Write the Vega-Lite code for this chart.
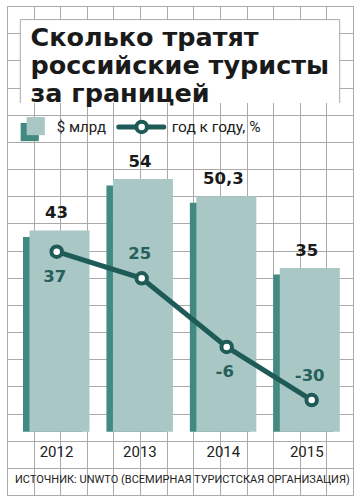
{
  "$schema": "https://vega.github.io/schema/vega-lite/v6.json",
  "width": 346,
  "height": 489,
  "autosize": {"type": "none"},
  "padding": {"left": 7, "top": 6, "right": 9, "bottom": 8},
  "background": "white",
  "config": {
    "view": {"stroke": "#aaaaaa", "strokeWidth": 1},
    "locale": {"number": {"decimal": ",", "thousands": " ", "grouping": [3], "currency": ["", ""], "minus": "-"}}
  },
  "datasets": {
    "spend": [
      {"year": 2012, "spend": 43},
      {"year": 2013, "spend": 54},
      {"year": 2014, "spend": 50.3},
      {"year": 2015, "spend": 35}
    ],
    "growth": [
      {"year": 2012, "change": 37},
      {"year": 2013, "change": 25},
      {"year": 2014, "change": -6},
      {"year": 2015, "change": -30}
    ]
  },
  "resolve": {"scale": {"x": "independent", "y": "independent"}},
  "layer": [
    {
      "data": {"values": [{}]},
      "encoding": {
        "x": {"type": "quantitative", "scale": {"domain": [0, 13], "nice": false, "zero": false},
              "axis": {"values": [0,1,2,3,4,5,6,7,8,9,10,11,12,13], "grid": true, "labels": false, "ticks": false, "domain": false, "title": null, "gridColor": "#aaaaaa", "gridOpacity": 1, "gridWidth": 1}},
        "y": {"type": "quantitative", "scale": {"domain": [0, 18], "nice": false, "zero": false, "reverse": true},
              "axis": {"values": [0,1,2,3,4,5,6,7,8,9,10,11,12,13,14,15,16,17,18], "grid": true, "labels": false, "ticks": false, "domain": false, "title": null, "gridColor": "#aaaaaa", "gridOpacity": 1, "gridWidth": 1}}
      },
      "layer": [
        {"mark": {"type": "rect", "fill": "white", "strokeWidth": 0},
         "encoding": {"x": {"datum": 0.5}, "x2": {"datum": 12.5}, "y": {"datum": 0.5}, "y2": {"datum": 3.57}}},
        {"mark": {"type": "rule", "color": "#aaaaaa", "strokeWidth": 1},
         "encoding": {"x": {"datum": 0.5}, "x2": {"datum": 12.5}, "y": {"datum": 0.5}}},
        {"mark": {"type": "rule", "color": "#aaaaaa", "strokeWidth": 1},
         "encoding": {"x": {"datum": 0.5}, "y": {"datum": 0.5}, "y2": {"datum": 3.57}}},
        {"mark": {"type": "rule", "color": "#aaaaaa", "strokeWidth": 1},
         "encoding": {"x": {"datum": 12.5}, "y": {"datum": 0.5}, "y2": {"datum": 3.57}}},
        {"mark": {"type": "text", "font": "DejaVu Sans", "fontWeight": "bold", "fontSize": 25.5, "align": "left", "baseline": "alphabetic", "lineHeight": 28, "color": "#1a1a1a",
                  "text": ["Сколько тратят", "российские туристы", "за границей"]},
         "encoding": {"x": {"datum": 0.88}, "y": {"datum": 1.48}}},
        {"mark": {"type": "square", "filled": true, "color": "#428a81", "size": 330, "xOffset": -6, "yOffset": 6, "opacity": 1},
         "encoding": {"x": {"datum": 1.08}, "y": {"datum": 4.42}}},
        {"mark": {"type": "square", "filled": true, "color": "#a8c7c5", "size": 330, "opacity": 1},
         "encoding": {"x": {"datum": 1.08}, "y": {"datum": 4.42}}},
        {"mark": {"type": "text", "font": "Roboto", "fontSize": 15, "align": "left", "baseline": "middle", "color": "#222222", "text": "$ млрд"},
         "encoding": {"x": {"datum": 1.87}, "y": {"datum": 4.44}}},
        {"mark": {"type": "rule", "color": "#1f5b56", "strokeWidth": 5, "strokeCap": "round"},
         "encoding": {"x": {"datum": 4.2}, "x2": {"datum": 5.89}, "y": {"datum": 4.45}}},
        {"mark": {"type": "point", "filled": true, "fill": "white", "stroke": "#1f5b56", "strokeWidth": 4, "size": 110, "opacity": 1},
         "encoding": {"x": {"datum": 5.06}, "y": {"datum": 4.45}}},
        {"mark": {"type": "text", "font": "Roboto", "fontSize": 15.5, "align": "left", "baseline": "middle", "color": "#222222", "text": "год к году, %"},
         "encoding": {"x": {"datum": 6.19}, "y": {"datum": 4.44}}},
        {"mark": {"type": "text", "font": "Roboto", "fontSize": 11, "align": "center", "baseline": "middle", "color": "#222222", "text": "ИСТОЧНИК: UNWTO (ВСЕМИРНАЯ ТУРИСТСКАЯ ОРГАНИЗАЦИЯ)"},
         "encoding": {"x": {"datum": 6.59}, "y": {"datum": 17.45}}}
      ]
    },
    {
      "data": {"name": "spend"},
      "encoding": {
        "x": {"field": "year", "type": "quantitative", "scale": {"domain": [2011.3707, 2015.5179], "nice": false, "zero": false, "padding": 0}, "axis": null},
        "y": {"field": "spend", "type": "quantitative", "stack": null, "scale": {"domain": [-13.53, 90.96], "nice": false, "padding": 0}, "axis": null}
      },
      "layer": [
        {"mark": {"type": "bar", "orient": "vertical", "width": 60, "color": "#428a81", "xOffset": -6.5, "yOffset": 6.5, "y2Offset": 6.5}},
        {"mark": {"type": "bar", "orient": "vertical", "width": 60, "color": "#a8c7c5"}},
        {"mark": {"type": "text", "font": "DejaVu Sans", "fontWeight": "bold", "fontSize": 16.5, "color": "#1a1a1a", "baseline": "middle", "align": "center", "dx": -3, "dy": -17},
         "encoding": {"text": {"field": "spend", "type": "quantitative", "format": ".3~g"}}},
        {"mark": {"type": "text", "font": "Roboto", "fontSize": 15, "color": "#222222", "baseline": "middle", "align": "center", "dx": -3},
         "encoding": {"y": {"datum": -4.27}, "text": {"field": "year", "type": "quantitative", "format": "d"}}}
      ]
    },
    {
      "data": {"name": "growth"},
      "encoding": {
        "x": {"field": "year", "type": "quantitative", "scale": {"domain": [2011.4153, 2015.4859], "nice": false, "zero": false}, "axis": null},
        "y": {"field": "change", "type": "quantitative", "scale": {"domain": [-72.9, 148], "nice": false}, "axis": null}
      },
      "layer": [
        {"mark": {"type": "line", "color": "#1f5b56", "strokeWidth": 5}},
        {"mark": {"type": "point", "filled": true, "fill": "white", "stroke": "#1f5b56", "strokeWidth": 4, "size": 110, "opacity": 1}},
        {"transform": [{"filter": {"field": "year", "oneOf": [2012, 2014]}}],
         "mark": {"type": "text", "font": "DejaVu Sans", "fontWeight": "bold", "fontSize": 16.5, "color": "#27605a", "baseline": "middle", "align": "center", "dx": -2, "dy": 25},
         "encoding": {"text": {"field": "change", "type": "quantitative", "format": "d"}}},
        {"transform": [{"filter": {"field": "year", "oneOf": [2013, 2015]}}],
         "mark": {"type": "text", "font": "DejaVu Sans", "fontWeight": "bold", "fontSize": 16.5, "color": "#27605a", "baseline": "middle", "align": "center", "dx": -2, "dy": -24.5},
         "encoding": {"text": {"field": "change", "type": "quantitative", "format": "d"}}}
      ]
    }
  ]
}
